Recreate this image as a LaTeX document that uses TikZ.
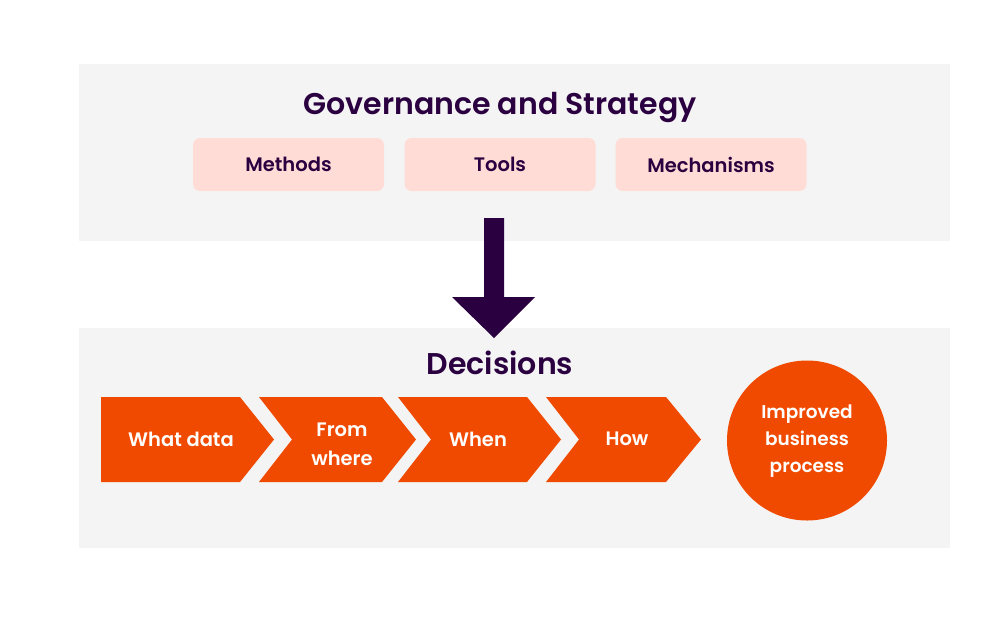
\documentclass[tikz,border=0pt]{standalone}
\usepackage{fontspec}
\setmainfont{Poppins}[BoldFont={Poppins SemiBold}]
\definecolor{panel}{HTML}{F4F4F4}
\definecolor{pinkbox}{HTML}{FFDDD6}
\definecolor{deep}{HTML}{2B0040}
\definecolor{orng}{HTML}{F04A00}
\begin{document}
\begin{tikzpicture}[x=1pt,y=-1pt,
  panelbox/.style={fill=panel,draw=none},
  pill/.style={fill=pinkbox,draw=none,rounded corners=7pt,minimum width=191pt,minimum height=53pt,inner sep=0pt,text=deep,font=\bfseries\fontsize{19.5}{22}\selectfont},
  title/.style={text=deep,font=\bfseries\fontsize{30}{34}\selectfont},
  chev/.style={fill=orng,draw=none},
  chevtext/.style={text=white,align=center,font=\bfseries\fontsize{19.5}{29}\selectfont},
  ]
\useasboundingbox (0,0) rectangle (1000,638);
\fill[white] (0,0) rectangle (1000,638);
% panels
\fill[panelbox] (79,64) rectangle (950,241);
\fill[panelbox] (79,328) rectangle (950,548);
% titles
\node[title] (gov) at (500,107) {Governance and Strategy};
\node[pill] (methods) at (288.5,164.5) {Methods};
\node[pill] (tools) at (500,164.5) {Tools};
\node[pill] (mech) at (711,164.5) {Mechanisms};
% arrow
\fill[deep] (484,218) -- (504,218) -- (504,297) -- (535,297) -- (494,338) -- (452,297) -- (484,297) -- cycle;
\node[title] (dec) at (500,363) {Decisions};
% chevrons
\fill[chev] (101,397) -- (240,397) -- (274,439.5) -- (240,482) -- (101,482) -- cycle;
\fill[chev] (259,397) -- (382,397) -- (416,439.5) -- (382,482) -- (259,482) -- (292,439.5) -- cycle;
\fill[chev] (398,397) -- (527,397) -- (561,439.5) -- (527,482) -- (398,482) -- (431,439.5) -- cycle;
\fill[chev] (546,397) -- (666,397) -- (701,439.5) -- (666,482) -- (546,482) -- (579,439.5) -- cycle;
\node[chevtext] (c1) at (181,439) {What data};
\node[chevtext] (c2) at (342,444) {From\\where};
\node[chevtext] (c3) at (478,439) {When};
\node[chevtext] (c4) at (627,439) {How};
% circle
\fill[orng] (807,440.5) circle (80);
\node[chevtext,font=\bfseries\fontsize{18.5}{27}\selectfont] (imp) at (807,441) {Improved\\business\\process};
\end{tikzpicture}
\end{document}
